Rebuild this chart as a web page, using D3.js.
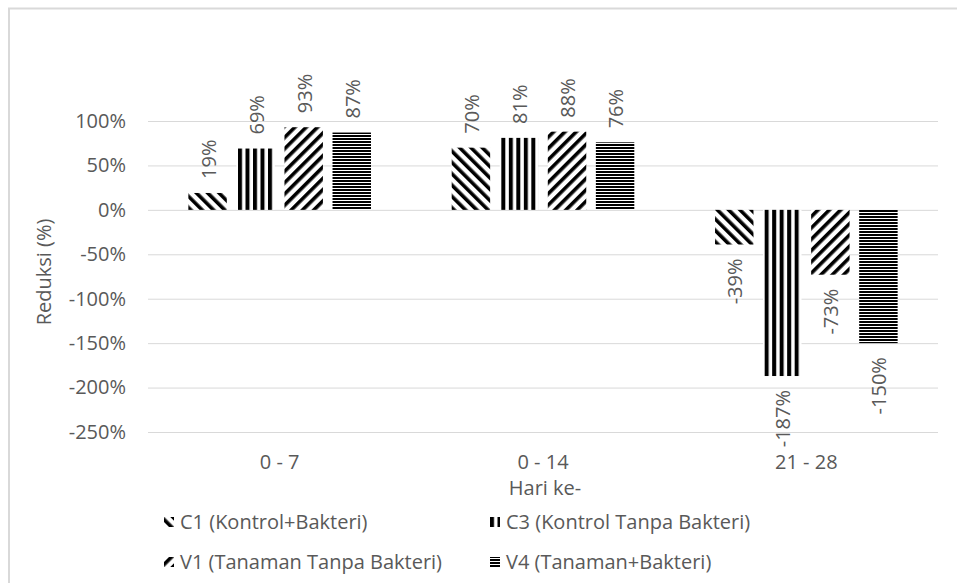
<!DOCTYPE html>
<html>
<head>
<meta charset="utf-8">
<script src="https://cdn.jsdelivr.net/npm/d3@7"></script>
<style>
  body { margin: 0; background: #fff; }
  text { font-family: "Open Sans", "Noto Sans", sans-serif; }
</style>
</head>
<body>
<svg id="chart"></svg>
<script>
// data
var periods = ["0 - 7", "0 - 14", "21 - 28"];
var seriesKeys = ["C1", "C3", "V1", "V4"];
var seriesNames = ["C1 (Kontrol+Bakteri)", "C3 (Kontrol Tanpa Bakteri)", "V1 (Tanaman Tanpa Bakteri)", "V4 (Tanaman+Bakteri)"];
var c1 = [0.19, 0.70, -0.39];
var c3 = [0.69, 0.81, -1.87];
var v1 = [0.93, 0.88, -0.73];
var v4 = [0.87, 0.76, -1.50];
var yTicks = [1, 0.5, 0, -0.5, -1, -1.5, -2, -2.5];

var svgWidth = 957, svgHeight = 583;
var textGray = "#595959", gridGray = "#d9d9d9";

var svg = d3.select("#chart")
  .attr("width", svgWidth)
  .attr("height", svgHeight);

// chart area border (runs off right and bottom)
svg.append("rect")
  .attr("x", 9).attr("y", 8.5)
  .attr("width", 960).attr("height", 600)
  .attr("fill", "none")
  .attr("stroke", gridGray)
  .attr("stroke-width", 2);

// hatch patterns
var defs = svg.append("defs");
function stripes(id, period, thick, angle) {
  var p = defs.append("pattern")
    .attr("id", id)
    .attr("patternUnits", "userSpaceOnUse")
    .attr("width", period).attr("height", period)
    .attr("patternTransform", "rotate(" + angle + ")");
  p.append("rect").attr("width", period).attr("height", period).attr("fill", "#fff");
  p.append("rect").attr("x", 0).attr("y", 0).attr("width", thick).attr("height", period).attr("fill", "#000");
}
stripes("pC1", 8, 3.6, -45);
stripes("pC3", 7.5, 4, 0);
stripes("pV1", 8, 3.6, 45);
stripes("pV4", 3, 2, 90);

var margin = {left: 148, right: 19, top: 121, bottom: 151};
var plotW = svgWidth - margin.left - margin.right;

var x0 = d3.scaleBand()
  .domain(periods)
  .range([margin.left, margin.left + plotW]);

var x1 = d3.scaleBand()
  .domain(seriesKeys)
  .range([0, x0.bandwidth()])
  .paddingInner(0.2)
  .paddingOuter(0.84);

var y = d3.scaleLinear()
  .domain([-2.5, 1])
  .range([432, 121]);

var pct = d => Math.round(d * 100) + "%";

// gridlines
svg.append("g")
  .attr("class", "grid")
  .attr("transform", "translate(" + margin.left + ",0)")
  .call(d3.axisLeft(y).tickValues(yTicks).tickSize(-plotW).tickFormat(""))
  .call(g => g.select(".domain").remove())
  .call(g => g.selectAll("line").attr("stroke", gridGray));

// y tick labels
svg.append("g")
  .attr("class", "y-axis")
  .attr("transform", "translate(" + margin.left + ",0)")
  .call(d3.axisLeft(y).tickValues(yTicks).tickSize(0).tickPadding(22).tickFormat(pct))
  .call(g => g.select(".domain").remove())
  .call(g => g.selectAll("text")
    .attr("fill", textGray)
    .style("font-size", "20px")
    .style("font-family", "'Open Sans', sans-serif"));

// category labels
svg.append("g")
  .attr("class", "x-axis")
  .attr("transform", "translate(0,432)")
  .call(d3.axisBottom(x0).tickSize(0).tickPadding(23))
  .call(g => g.select(".domain").remove())
  .call(g => g.selectAll("text")
    .attr("fill", textGray)
    .style("font-size", "20px")
    .style("font-family", "'Open Sans', sans-serif"));

// bars
var table = periods.map((p, i) => ({period: p, C1: c1[i], C3: c3[i], V1: v1[i], V4: v4[i]}));

var groups = svg.selectAll("g.period")
  .data(table)
  .enter().append("g")
  .attr("class", "period")
  .attr("transform", d => "translate(" + x0(d.period) + ",0)");

var cells = groups.selectAll("g.cell")
  .data(d => seriesKeys.map(k => ({key: k, value: d[k]})))
  .enter().append("g")
  .attr("class", "cell");

cells.append("rect")
  .attr("x", d => x1(d.key))
  .attr("width", x1.bandwidth())
  .attr("y", d => y(Math.max(0, d.value)))
  .attr("height", d => Math.abs(y(d.value) - y(0)))
  .attr("fill", d => "url(#p" + d.key + ")");

cells.append("text")
  .attr("transform", function(d) {
    var cx = x1(d.key) + x1.bandwidth() / 2 + 1;
    var cy = d.value >= 0 ? y(d.value) - 14 : y(d.value) + 14;
    return "translate(" + cx + "," + cy + ") rotate(-90)";
  })
  .attr("text-anchor", d => d.value >= 0 ? "start" : "end")
  .attr("dy", "0.35em")
  .attr("fill", textGray)
  .style("font-size", "20px")
  .text(d => pct(d.value));

// axis titles
svg.append("text")
  .attr("transform", "translate(44,272) rotate(-90)")
  .attr("text-anchor", "middle")
  .attr("dy", "0.35em")
  .attr("fill", textGray)
  .style("font-size", "20px")
  .text("Reduksi (%)");

svg.append("text")
  .attr("x", 545)
  .attr("y", 495)
  .attr("text-anchor", "middle")
  .attr("fill", textGray)
  .style("font-size", "20px")
  .text("Hari ke-");

// legend, two columns
var legendX = [164, 490], legendY = [522, 562], size = 10;
var legend = svg.selectAll("g.legend")
  .data(seriesKeys)
  .enter().append("g")
  .attr("class", "legend")
  .attr("transform", (d, i) => "translate(" + legendX[i % 2] + "," + legendY[Math.floor(i / 2)] + ")");

legend.append("rect")
  .attr("x", 0)
  .attr("y", -size / 2)
  .attr("width", size)
  .attr("height", size)
  .attr("fill", d => "url(#p" + d + ")");

legend.append("text")
  .attr("x", size + 6)
  .attr("dy", "0.35em")
  .attr("fill", textGray)
  .style("font-size", "20px")
  .text((d, i) => seriesNames[i]);
</script>
</body>
</html>
